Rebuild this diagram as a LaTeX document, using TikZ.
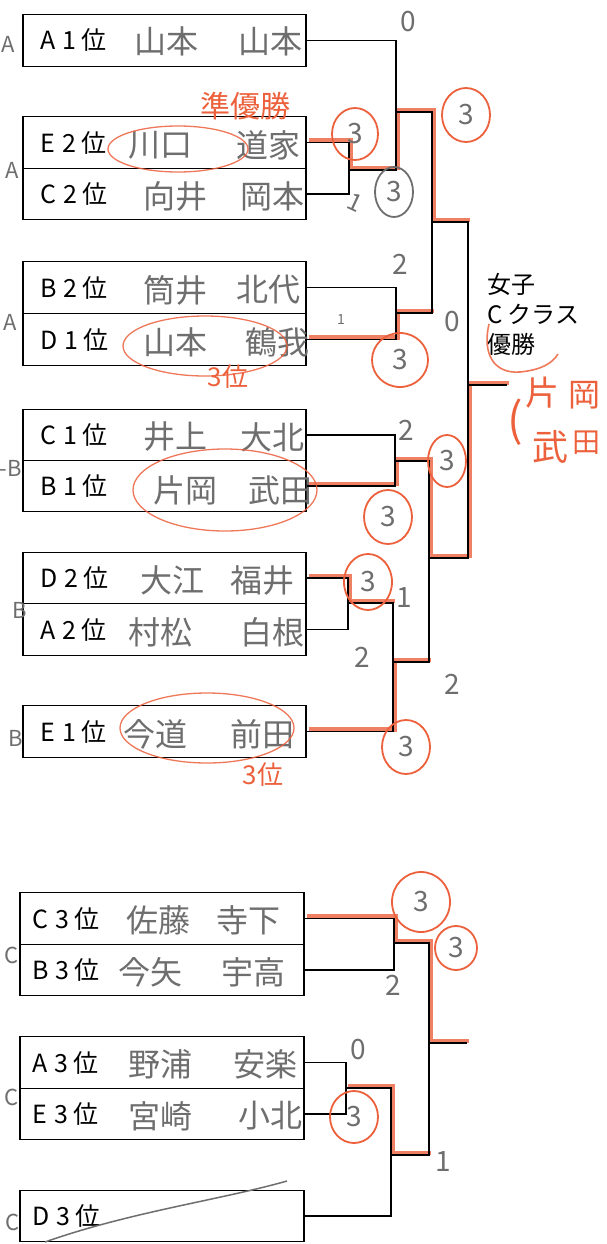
\documentclass[tikz,border=0pt]{standalone}
\usepackage{fontspec}
\newfontfamily\jp{Noto Sans CJK JP}
\usetikzlibrary{shapes.geometric}

\definecolor{pencil}{RGB}{110,110,110}
\definecolor{pencilred}{RGB}{236,96,60}

\tikzset{
  entry/.style={draw, line width=1.2pt, fill=white, minimum height=51.5pt,
    inner xsep=17pt, inner ysep=0pt, text width=249pt, align=left,
    font=\jp\fontsize{25}{25}\selectfont},
  wire/.style={line width=1.3pt},
  won/.style={draw=pencilred, line width=4.5pt, opacity=.8,
    transform canvas={xshift=2pt, yshift=2pt}},
  hand/.style={text=pencil, font=\jp\fontsize{32}{32}\selectfont, inner sep=0pt},
  score/.style={text=pencil, font=\jp\fontsize{28}{28}\selectfont, inner sep=0pt},
  wincircle/.style={ellipse, draw=pencilred, line width=1.8pt, minimum width=46pt,
    minimum height=52pt, inner sep=0pt, score},
  ring/.style={draw=pencilred, line width=1.3pt, opacity=.85},
  redtext/.style={text=pencilred, font=\jp\fontsize{26}{26}\selectfont, inner sep=0pt},
  grp/.style={text=pencil, font=\jp\fontsize{22}{22}\selectfont, inner sep=0pt},
}

\begin{document}
\begin{tikzpicture}[x=1pt, y=-1pt]

    \useasboundingbox (0,0) rectangle (606,1244);

    % Entry boxes
    \foreach \g/\n/\y in {A/1/40.5, E/2/142.5, C/2/194, B/2/287.5, D/1/339.5,
                          C/1/435, B/1/486, D/2/578, A/2/629.5, E/1/731.5}
        \node[entry] (\g\n) at (164.5,\y) {\g\hspace{.3em}\n\hspace{.2em}位};
    \foreach \g/\n/\y in {C/3/918.5, B/3/970, A/3/1062.5, E/3/1114, D/3/1216}
        \node[entry, inner xsep=12pt, text width=260pt] (\g\n) at (162,\y) {\g\hspace{.3em}\n\hspace{.2em}位};

    % Players written in
    \foreach \id/\y/\p/\px/\q/\qx in {A1/41/山本/166/山本/270, E2/145/川口/160/道家/268,
            C2/196/向井/175/岡本/272, B2/290/筒井/175/北代/268, D1/342/山本/175/鶴我/277,
            C1/437/井上/175/大北/272, B1/490/片岡/185/武田/280, D2/580/大江/172/福井/262,
            A2/632/村松/160/白根/272, E1/734/今道/155/前田/262, C3/920/佐藤/158/寺下/248,
            B3/972/今矢/150/宇高/253, A3/1064/野浦/160/安楽/265, E3/1116/宮崎/160/小北/270}
    {
        \node[hand] (\id-p) at (\px,\y) {\p};
        \node[hand] (\id-q) at (\qx,\y) {\q};
    }
    \draw[pencil, line width=1.5pt] (45,1242) .. controls (130,1212) and (220,1200) .. (287,1181);

    % Bracket joints
    \coordinate (m1) at (349,170);
    \coordinate (r1) at (396,112);
    \coordinate (m2) at (396,313);
    \coordinate (s1) at (432,222);
    \coordinate (f1) at (468,385);
    \coordinate (w1) at (507,385);
    \coordinate (m3) at (395,461);
    \coordinate (m4) at (348,603);
    \coordinate (r2) at (393,662);
    \coordinate (s2) at (429,558);
    \coordinate (m5) at (394,943);
    \coordinate (m6) at (346,1088);
    \coordinate (r3) at (391,1155);
    \coordinate (s3) at (429,1043);
    \coordinate (w2) at (467,1043);

    % Winners marked in red pencil
    \draw[won] (E2.east) -| (m1) -| (r1) -| (s1) -- (s1 -| f1);
    \draw[won] (D1.east) -| (m2) -- (m2 -| s1);
    \draw[won] (B1.east) -| (m3) -| (s2) -| (f1) -- (w1);
    \draw[won] (D2.east) -| (m4) -- (m4 -| r2);
    \draw[won] (E1.east) -| (r2) -- (r2 -| s2);
    \draw[won] (C3.east) -| (m5) -| (s3) -- (w2);
    \draw[won] (m6) -| (r3) -- (r3 -| s3);

    % Bracket lines
    \draw[wire] (E2.east) -| (m1) |- (C2.east);
    \draw[wire] (A1.east) -| (r1) (m1) -| (r1) -| (s1);
    \draw[wire] (B2.east) -| (m2) |- (D1.east);
    \draw[wire] (m2) -| (s1) -| (f1);
    \draw[wire] (C1.east) -| (m3) |- (B1.east);
    \draw[wire] (D2.east) -| (m4) |- (A2.east);
    \draw[wire] (m4) -| (r2) |- (E1.east);
    \draw[wire] (m3) -| (s2) |- (r2);
    \draw[wire] (s2) -| (f1) -- (w1);
    \draw[wire] (C3.east) -| (m5) |- (B3.east);
    \draw[wire] (A3.east) -| (m6) |- (E3.east);
    \draw[wire] (m6) -| (r3) |- (D3.east);
    \draw[wire] (m5) -| (s3) |- (r3);
    \draw[wire] (s3) -- (w2);

    % Title
    \node[align=left, font=\jp\fontsize{24}{30}\selectfont, anchor=west, inner sep=0pt]
        (cls) at (487,314) {女子\\C クラス\\優勝};

    % Scores
    \node[score] (s-a1) at (408,22) {0};
    \node[wincircle] (c-e2) at (355,134) {3};
    \node[score, rotate=-25, font=\jp\fontsize{24}{24}\selectfont] (s-c2) at (355,203) {1};
    \node[wincircle, draw=pencil, minimum width=38pt, minimum height=50pt] (c-q1) at (394,192) {3};
    \node[wincircle, minimum width=48pt, minimum height=54pt] (c-sf1) at (466,115) {3};
    \node[score] (s-b2) at (400,264) {2};
    \node[score, font=\jp\fontsize{14}{14}\selectfont] (s-d1) at (341,320) {1};
    \node[score] (s-q2) at (452,322) {0};
    \node[wincircle, minimum width=56pt, minimum height=54pt] (c-d1) at (400,360) {3};

    \node[score] (s-c1) at (406,430) {2};
    \node[wincircle, minimum width=38pt] (c-sf2) at (447,461) {3};
    \node[wincircle, minimum width=48pt, minimum height=54pt] (c-b1) at (388,517) {3};
    \node[wincircle, minimum width=48pt, minimum height=56pt] (c-d2) at (368,582) {3};
    \node[score] (s-a2) at (404,598) {1};
    \node[score] (s-r2) at (362,657) {2};
    \node[score] (s-q3) at (452,684) {2};
    \node[wincircle, minimum width=48pt, minimum height=54pt] (c-e1) at (406,747) {3};

    \node[wincircle, minimum width=58pt, minimum height=60pt] (c-c3) at (421,902) {3};
    \node[wincircle, minimum width=42pt, minimum height=44pt] (c-sf3) at (456,948) {3};
    \node[score] (s-b3) at (393,985) {2};
    \node[score] (s-a3) at (358,1050) {0};
    \node[wincircle, minimum width=48pt, minimum height=52pt] (c-e3) at (354,1117) {3};
    \node[score] (s-d3) at (443,1162) {1};

    % Red pencil notes
    \draw[ring] (178,149) ellipse [x radius=70, y radius=23];
    \draw[ring] (205,346) ellipse [x radius=82, y radius=30];
    \draw[ring] (225,490) ellipse [x radius=92, y radius=41];
    \draw[ring] (207,728) ellipse [x radius=87, y radius=35];
    \node[redtext, font=\jp\fontsize{30}{30}\selectfont] (runner) at (245,106) {準優勝};
    \node[redtext] (third1) at (228,377) {3位};
    \node[redtext] (third2) at (263,775) {3位};
    \draw[ring, line width=1.6pt] (489,324) .. controls (482,354) and (494,374) .. (520,372)
        .. controls (540,370) and (552,364) .. (558,354);
    \node[redtext, font=\jp\fontsize{46}{46}\selectfont] (paren) at (515,422) {(};
    \node[redtext, font=\jp\fontsize{34}{34}\selectfont] (ch1) at (542,393) {片};
    \node[redtext, font=\jp\fontsize{32}{32}\selectfont] (ch2) at (584,395) {岡};
    \node[redtext, font=\jp\fontsize{36}{36}\selectfont] (ch3) at (550,447) {武};
    \node[redtext, font=\jp\fontsize{28}{28}\selectfont] (ch4) at (586,443) {田};

    % Group marks
    \node[grp] (g1) at (8,44) {A};
    \node[grp] (g2) at (12,170) {A};
    \node[grp] (g3) at (10,322) {A};
    \node[grp] (g4) at (11,468) {-B};
    \node[grp] (g5) at (20,610) {B};
    \node[grp] (g6) at (16,738) {B};
    \node[grp] (g7) at (12,955) {C};
    \node[grp] (g8) at (12,1097) {C};
    \node[grp] (g9) at (13,1222) {C};

\end{tikzpicture}
\end{document}
